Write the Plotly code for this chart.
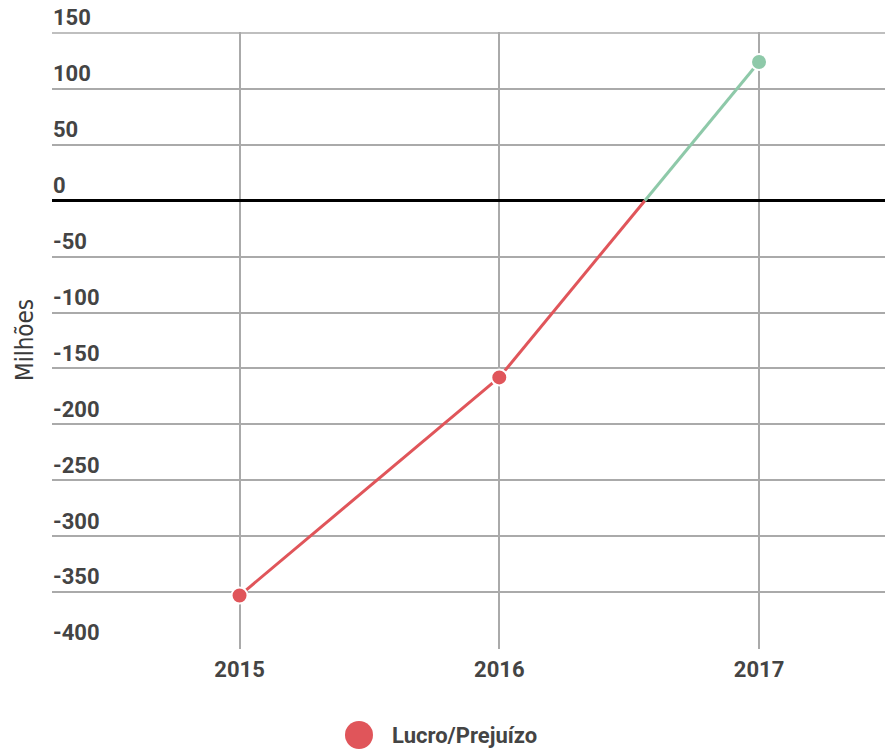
import plotly.graph_objects as go

years = [2015, 2016, 2017]
values = [-353, -158, 124]
year_labels = ["2015", "2016", "2017"]
y_ticks = [150, 100, 50, 0, -50, -100, -150, -200, -250, -300, -350, -400]
y_tick_labels = ["150", "100", "50", "0", "-50", "-100", "-150", "-200", "-250", "-300", "-350", "-400"]
series_name = "Lucro/Prejuízo"
axis_title = "Milhões"

RED = "#E0555A"
GREEN = "#8EC9A9"
GRID = "#aaaaaa"

# split the line at the zero crossing (computed from the data)
neg_x, neg_y, pos_x, pos_y = [], [], [], []
for i in range(len(years) - 1):
    x0, y0, x1, y1 = years[i], values[i], years[i + 1], values[i + 1]
    if y0 < 0 and y1 < 0:
        neg_x += [x0, x1, None]; neg_y += [y0, y1, None]
    elif y0 >= 0 and y1 >= 0:
        pos_x += [x0, x1, None]; pos_y += [y0, y1, None]
    else:
        xc = x0 + (0 - y0) * (x1 - x0) / (y1 - y0)
        if y0 < 0:
            neg_x += [x0, xc, None]; neg_y += [y0, 0, None]
            pos_x += [xc, x1, None]; pos_y += [0, y1, None]
        else:
            pos_x += [x0, xc, None]; pos_y += [y0, 0, None]
            neg_x += [xc, x1, None]; neg_y += [0, y1, None]

fig = go.Figure()
fig.add_trace(go.Scatter(x=neg_x, y=neg_y, mode="lines",
                         line=dict(color=RED, width=3), showlegend=False, hoverinfo="skip"))
fig.add_trace(go.Scatter(x=pos_x, y=pos_y, mode="lines",
                         line=dict(color=GREEN, width=3), showlegend=False, hoverinfo="skip"))
fig.add_trace(go.Scatter(x=years, y=values, mode="markers", name=series_name,
                         marker=dict(size=16, color=[RED if v < 0 else GREEN for v in values],
                                     line=dict(color="white", width=2)),
                         showlegend=False))

T, B = 32, 100
H = 749 - T - B
fig.update_layout(
    width=885, height=749,
    margin=dict(l=52, r=0, t=T, b=B),
    paper_bgcolor="white", plot_bgcolor="white",
    font=dict(family="Roboto, sans-serif", color="#444"),
    xaxis=dict(range=[2014.278, 2017.485], tickvals=years, ticktext=year_labels,
               showgrid=True, gridcolor=GRID, gridwidth=1.5,
               zeroline=False, showline=False, ticks="",
               tickfont=dict(size=22, weight="bold", color="#444"),
               ticklabelstandoff=5, fixedrange=True),
    yaxis=dict(range=[-400.8, 150.8], tickvals=y_ticks, ticktext=y_tick_labels,
               showgrid=True, gridcolor=GRID, gridwidth=1.5,
               zeroline=True, zerolinecolor="black", zerolinewidth=3,
               showline=False, ticks="", ticklabelposition="inside top",
               ticklabeloverflow="allow", ticklabelstandoff=-2,
               tickfont=dict(size=22, weight="bold", color="#444"), fixedrange=True),
    showlegend=False,
)

# top gridline (at the highest tick)
fig.add_shape(type="line", xref="paper", yref="y", x0=0, x1=1,
              y0=max(y_ticks), y1=max(y_ticks), layer="below",
              line=dict(color=GRID, width=1.5))

fig.add_annotation(text=axis_title, xref="paper", yref="paper",
                   x=(25 - 52) / 833, y=(749 - B - 340) / H, xanchor="center", yanchor="middle",
                   textangle=-90, showarrow=False,
                   font=dict(family="DejaVu Sans Condensed, Roboto", size=24, color="#3a3a3a"))

# legend glyph
fig.add_shape(type="circle", xref="paper", yref="paper",
              xsizemode="pixel", ysizemode="pixel",
              xanchor=(359 - 52) / 833, yanchor=(749 - B - 735) / H,
              x0=-14, x1=14, y0=-14, y1=14,
              fillcolor=RED, line=dict(width=0))
fig.add_annotation(text=series_name, xref="paper", yref="paper",
                   x=(391 - 52) / 833, y=(749 - B - 735) / H, xanchor="left", yanchor="middle",
                   showarrow=False, borderpad=0,
                   font=dict(size=22, weight="bold", color="#444"))

fig.write_html("out.html", config={"displayModeBar": False},
               post_script="document.body.style.margin='0';document.body.style.padding='0';")
